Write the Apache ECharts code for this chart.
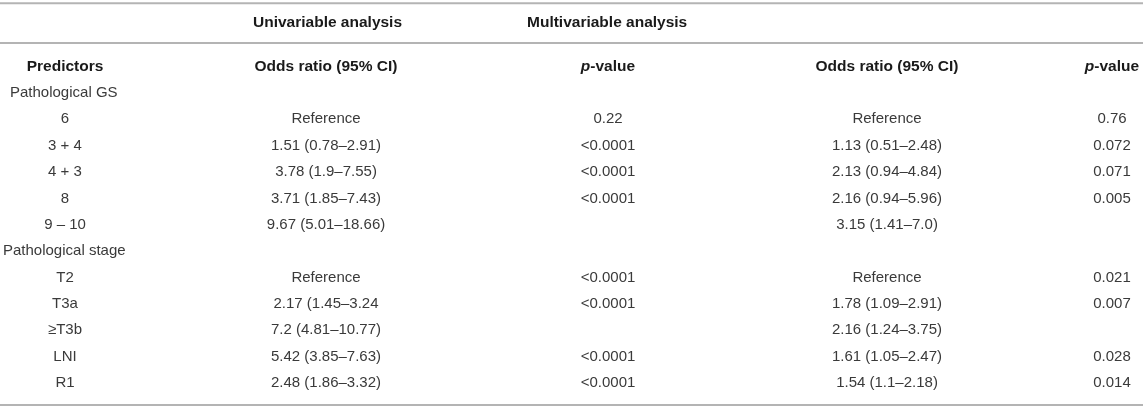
<!DOCTYPE html>
<html>
<head>
<meta charset="utf-8">
<title>Predictors table</title>
<script src="https://cdn.jsdelivr.net/npm/echarts@6/dist/echarts.min.js"></script>
<style>
    html, body{
        margin: 0;
        padding: 0;
        background-color: #fff;
    }
    #main{
        width: 1143px;
        height: 408px;
    }
</style>
</head>
<body>
<div id="main"></div>
<script>
    // table content, one entry per body row
    var predictors = ['Pathological GS', '6', '3 + 4', '4 + 3', '8', '9 \u2013 10',
        'Pathological stage', 'T2', 'T3a', '\u2265T3b', 'LNI', 'R1'];
    var uniOR = ['', 'Reference', '1.51 (0.78\u20132.91)', '3.78 (1.9\u20137.55)', '3.71 (1.85\u20137.43)', '9.67 (5.01\u201318.66)',
        '', 'Reference', '2.17 (1.45\u20133.24', '7.2 (4.81\u201310.77)', '5.42 (3.85\u20137.63)', '2.48 (1.86\u20133.32)'];
    var uniP = ['', '0.22', '<0.0001', '<0.0001', '<0.0001', '',
        '', '<0.0001', '<0.0001', '', '<0.0001', '<0.0001'];
    var multiOR = ['', 'Reference', '1.13 (0.51\u20132.48)', '2.13 (0.94\u20134.84)', '2.16 (0.94\u20135.96)', '3.15 (1.41\u20137.0)',
        '', 'Reference', '1.78 (1.09\u20132.91)', '2.16 (1.24\u20133.75)', '1.61 (1.05\u20132.47)', '1.54 (1.1\u20132.18)'];
    var multiP = ['', '0.76', '0.072', '0.071', '0.005', '',
        '', '0.021', '0.007', '', '0.028', '0.014'];
    var groupRows = [0, 6];
    var colHeaders = ['Predictors', 'Odds ratio (95% CI)', '{i|p}-value', 'Odds ratio (95% CI)', '{i|p}-value'];
    var spanHeaders = ['Univariable analysis', 'Multivariable analysis'];

    // layout (pixel x on a 0..1143 axis, y in row units)
    var colX = [65, 326, 608, 887, 1112];
    var groupX = [10, 3];
    var spanX = [253, 527];
    var spanRow = -2.66, headRow = -1;
    var rules = [-3.40, -1.90, 11.84];
    var fam = '"Liberation Sans", Arial, sans-serif';

    var cells = [];
    function cell(x, y, text, align, bold){
        cells.push({value: [x, y], text: text, align: align, bold: bold});
    }
    spanHeaders.forEach(function (t, i) { cell(spanX[i], spanRow, t, 'left', true); });
    colHeaders.forEach(function (t, i) { cell(colX[i], headRow, t, 'center', true); });
    var cols = [predictors, uniOR, uniP, multiOR, multiP];
    predictors.forEach(function (p, r) {
        var g = groupRows.indexOf(r);
        if (g >= 0) {
            cell(groupX[g], r, p, 'left', false);
            return;
        }
        cols.forEach(function (col, c) {
            if (col[r]) cell(colX[c], r, col[r], 'center', false);
        });
    });

    var myChart = echarts.init(document.getElementById('main'));
    var option = {
        animation: false,
        grid: {left: 0, right: 0, top: 0, bottom: 0},
        xAxis: {type: 'value', min: 0, max: 1143, show: false},
        yAxis: {type: 'value', min: -3.528, max: 11.95, inverse: true, show: false},
        series: [{
            // horizontal rules
            type: 'custom',
            data: rules.map(function (v) { return [0, v]; }),
            renderItem: function (params, api) {
                var a = api.coord([0, api.value(1)]);
                var b = api.coord([1143, api.value(1)]);
                return {
                    type: 'line',
                    shape: {x1: a[0], y1: a[1], x2: b[0], y2: b[1]},
                    style: {stroke: '#b4b4b4', lineWidth: 2}
                };
            }
        }, {
            // text cells
            type: 'custom',
            data: cells.map(function (c) { return c.value; }),
            renderItem: function (params, api) {
                var c = cells[params.dataIndex];
                var p = api.coord([api.value(0), api.value(1)]);
                return {
                    type: 'text',
                    x: p[0],
                    y: p[1],
                    style: {
                        text: c.text,
                        fill: c.bold ? '#1a1a1a' : '#3a3a3a',
                        font: c.bold ? 'bold 15.5px ' + fam : '15px ' + fam,
                        align: c.align,
                        verticalAlign: 'middle',
                        rich: {
                            i: {fontStyle: 'italic', fontWeight: 'bold', fontSize: 15.5, fontFamily: fam, fill: '#1a1a1a'}
                        }
                    }
                };
            }
        }]
    };
    myChart.setOption(option);
</script>
</body>
</html>
